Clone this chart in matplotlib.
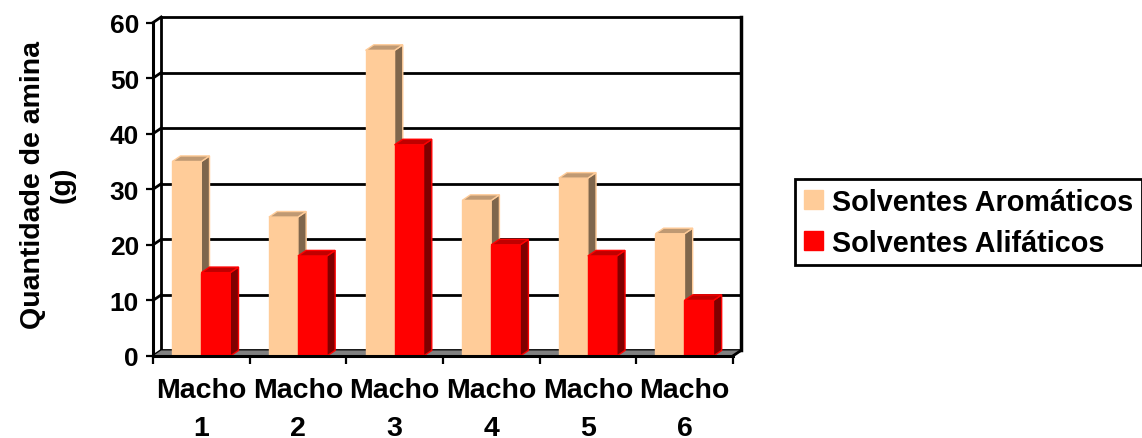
import matplotlib.pyplot as plt
from matplotlib.patches import Polygon

plt.rcParams['font.family'] = ['Liberation Sans', 'DejaVu Sans']
plt.rcParams['font.weight'] = 'bold'

# Dados
categorias = ['Macho\n1', 'Macho\n2', 'Macho\n3', 'Macho\n4', 'Macho\n5', 'Macho\n6']
aromaticos = [35, 25, 55, 28, 32, 22]
alifaticos = [15, 18, 38, 20, 18, 10]
series = ['Solventes Aromáticos', 'Solventes Alifáticos']

# cores: frente, topo, lateral
cores = [('#FFCC99', '#BF9973', '#7F664C'),
         ('#FF0000', '#C00000', '#800000')]

dx, dy = 0.085, 1.0   # profundidade do efeito 3D
w = 0.3
n = len(categorias)

fig = plt.figure(figsize=(11.42, 4.39), dpi=100)
ax = fig.add_axes([153 / 1142, 1 - 357 / 439, (741 - 153) / 1142, (357 - 18) / 439])
ax.set_xlim(0, n + dx)
ax.set_ylim(0, 60 + dy)

# parede do fundo e grade
for v in range(0, 61, 10):
    ax.plot([dx, n + dx], [v + dy, v + dy], color='black', lw=2, zorder=1, clip_on=False)
    ax.plot([0, dx], [v, v + dy], color='black', lw=2, zorder=1, clip_on=False)
ax.plot([dx, dx], [dy, 60 + dy], color='black', lw=2, zorder=1, clip_on=False)
ax.plot([n + dx, n + dx], [dy, 60 + dy], color='black', lw=2.5, zorder=1, clip_on=False)

# piso
ax.add_patch(Polygon([(0, 0), (n, 0), (n + dx, dy), (dx, dy)], closed=True,
                     facecolor='#808080', edgecolor='none', zorder=2))
ax.plot([n, n + dx], [0, dy], color='black', lw=2, zorder=2, clip_on=False)

# barras
for i in range(n):
    for s, vals in enumerate([aromaticos, alifaticos]):
        frente, topo, lado = cores[s]
        x = i + 0.2 + s * w
        h = vals[i]
        ax.bar(x, h, width=w, align='edge', color=frente, edgecolor=frente,
               linewidth=1, zorder=3 + s)
        ax.add_patch(Polygon([(x + w, 0), (x + w + dx, dy), (x + w + dx, h + dy), (x + w, h)],
                             closed=True, facecolor=lado, edgecolor=frente, lw=1, zorder=3 + s))
        ax.add_patch(Polygon([(x, h), (x + w, h), (x + w + dx, h + dy), (x + dx, h + dy)],
                             closed=True, facecolor=topo, edgecolor=frente, lw=1, zorder=3 + s))

# eixos
for lado in ['top', 'right']:
    ax.spines[lado].set_visible(False)
ax.spines['left'].set_bounds(0, 60)
ax.spines['bottom'].set_bounds(0, n)
ax.spines['left'].set_linewidth(2.2)
ax.spines['bottom'].set_linewidth(2.2)
ax.spines['left'].set_zorder(10)
ax.spines['bottom'].set_zorder(10)

ax.set_yticks(range(0, 61, 10))
ax.tick_params(axis='y', direction='out', length=5, width=1.6, pad=5, labelsize=19)
ax.set_xticks(range(0, n + 1))
ax.set_xticklabels([''] * (n + 1))
ax.set_xticks([i + 0.5 for i in range(n)], minor=True)
ax.set_xticklabels(categorias, minor=True, fontsize=20.5, linespacing=1.6)
ax.tick_params(axis='x', which='major', direction='out', length=6, width=1.6)
ax.tick_params(axis='x', which='minor', length=0, pad=15)

fig.text(0.042, 0.578, 'Quantidade de amina\n(g)', rotation=90, ha='center', va='center',
         multialignment='center', fontsize=20.5, linespacing=1.15)

# legenda
handles = [plt.Rectangle((0, 0), 1, 1, facecolor=c[0], edgecolor=c[0]) for c in cores]
leg = fig.legend(handles, series, loc='upper left', bbox_to_anchor=(795 / 1142, 1 - 180 / 439),
                 fontsize=20.7, frameon=True, fancybox=False, framealpha=1,
                 handlelength=0.68, handleheight=0.68, handletextpad=0.3,
                 labelspacing=0.45, borderpad=0.3, borderaxespad=0)
leg.get_frame().set_edgecolor('black')
leg.get_frame().set_linewidth(2)

fig.savefig('out.png', dpi=100)
